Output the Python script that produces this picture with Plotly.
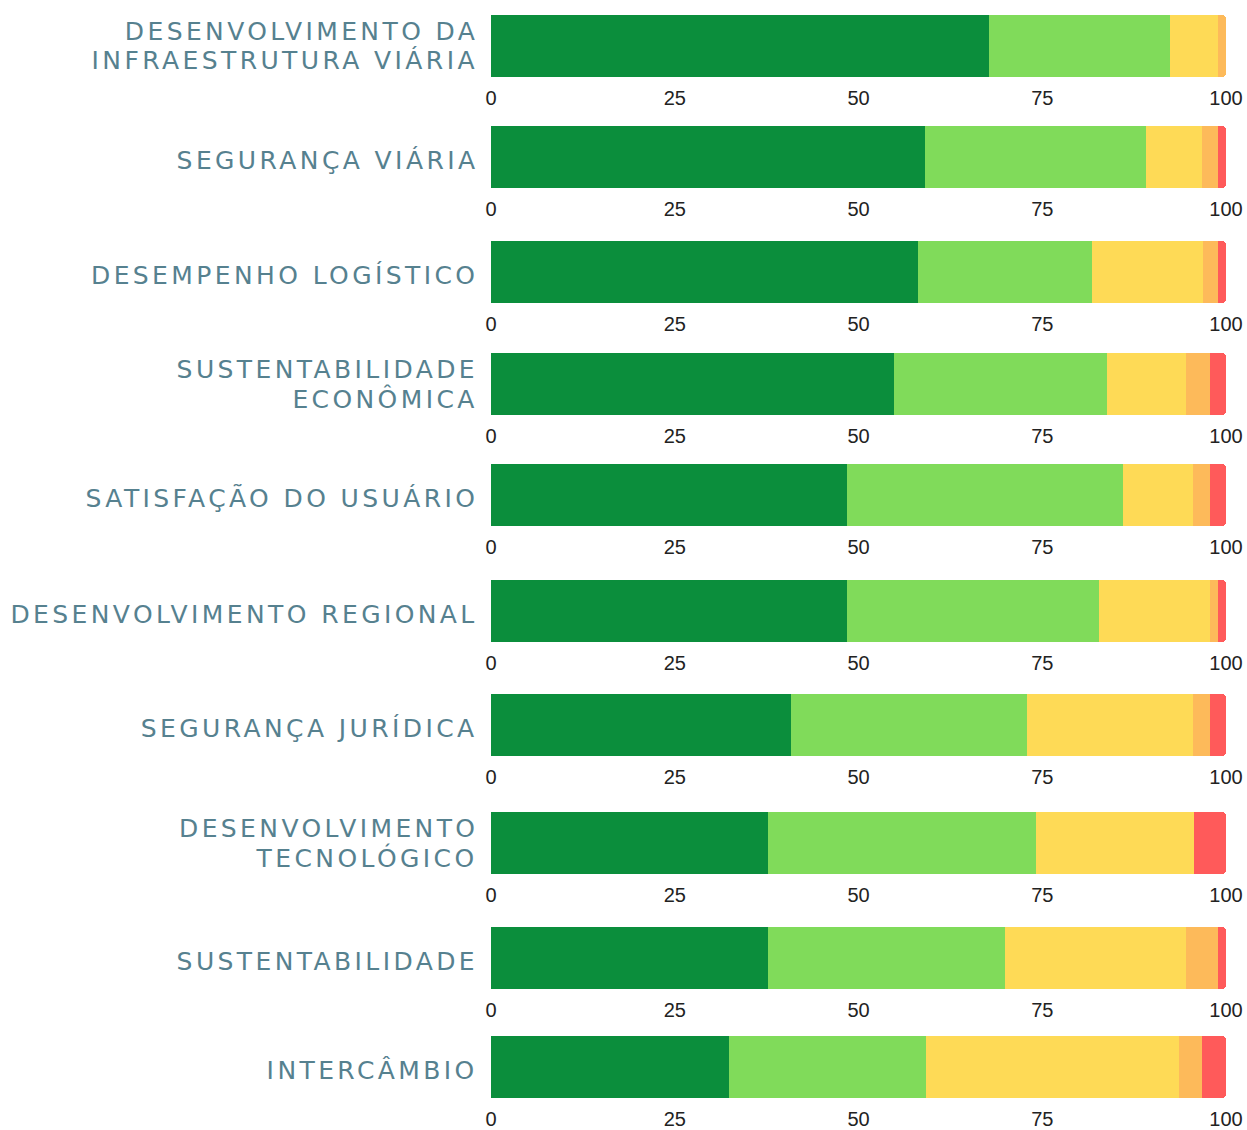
import plotly.graph_objects as go

categories = [
    ["DESENVOLVIMENTO DA", "INFRAESTRUTURA VIÁRIA"],
    ["SEGURANÇA VIÁRIA"],
    ["DESEMPENHO LOGÍSTICO"],
    ["SUSTENTABILIDADE", "ECONÔMICA"],
    ["SATISFAÇÃO DO USUÁRIO"],
    ["DESENVOLVIMENTO REGIONAL"],
    ["SEGURANÇA JURÍDICA"],
    ["DESENVOLVIMENTO", "TECNOLÓGICO"],
    ["SUSTENTABILIDADE"],
    ["INTERCÂMBIO"],
]
seg1 = [67.8, 59.0, 58.1, 54.8, 48.4, 48.4, 40.8, 37.7, 37.7, 32.4]
seg2 = [24.6, 30.1, 23.7, 29.0, 37.6, 34.3, 32.1, 36.5, 32.2, 26.8]
seg3 = [6.5, 7.6, 15.1, 10.8, 9.5, 15.1, 22.6, 21.5, 24.6, 34.4]
seg4 = [1.1, 2.2, 2.0, 3.2, 2.3, 1.1, 2.3, 0.0, 4.4, 3.1]
seg5 = [0.0, 1.1, 1.1, 2.2, 2.2, 1.1, 2.2, 4.3, 1.1, 3.3]
tick_vals = [0, 25, 50, 75, 100]
tick_text = ["0", "25", "50", "75", "100"]

colors = ["#0B8E3C", "#80DB5A", "#FEDA56", "#FDBA5A", "#FF5A5A"]
series = [seg1, seg2, seg3, seg4, seg5]

W, H = 1247, 1130
bar_tops = [15, 126, 241, 353, 464, 580, 694, 812, 927, 1036]
bar_h = 62

fig = go.Figure()
layout = dict(
    width=W, height=H,
    margin=dict(l=491, r=21, t=0, b=0, autoexpand=False),
    paper_bgcolor="white", plot_bgcolor="white",
    barmode="stack", bargap=0, barcornerradius=4,
    showlegend=False,
)
annotations = []
for i in range(10):
    ax = "" if i == 0 else str(i + 1)
    for s, col in zip(series, colors):
        fig.add_trace(go.Bar(
            x=[s[i]], y=[0], orientation="h",
            marker=dict(color=col, line=dict(width=0)),
            xaxis="x" + ax, yaxis="y" + ax,
            hoverinfo="skip",
        ))
    top = bar_tops[i]
    d0 = 1 - (top + bar_h) / H
    d1 = 1 - top / H
    layout["xaxis" + ax] = dict(
        domain=[0, 1], range=[0, 100], anchor="y" + ax,
        tickvals=tick_vals, ticktext=tick_text,
        showgrid=False, zeroline=False, showline=False,
        ticks="outside", ticklen=3, tickcolor="rgba(0,0,0,0)",
        tickfont=dict(family="Liberation Sans, Arial", size=20, color="#222222"),
        fixedrange=True,
    )
    layout["yaxis" + ax] = dict(
        domain=[d0, d1], range=[-0.5, 0.5], anchor="x" + ax,
        showticklabels=False, showgrid=False, zeroline=False, showline=False,
        fixedrange=True,
    )
    center = top + bar_h / 2
    lines = categories[i]
    n = len(lines)
    for k, txt in enumerate(lines):
        yc = center + (k - (n - 1) / 2) * 29
        if n == 1:
            yc += 3
        annotations.append(dict(
            text=txt, xref="paper", yref="paper",
            x=0, xshift=-13, xanchor="right", align="right",
            y=1 - yc / H, yanchor="middle",
            showarrow=False, borderpad=0, borderwidth=0,
            font=dict(family="DejaVu Sans", size=25, color="#56818F"),
        ))
layout["annotations"] = annotations
fig.update_layout(**layout)

page_js = (
    "document.body.style.margin='0';"
    "document.body.style.overflow='hidden';"
    "document.querySelectorAll('.annotation-text').forEach(function(e){"
    "e.style.letterSpacing='3.4px';});"
)
fig.write_html("out.html", post_script=page_js,
               config={"displayModeBar": False, "staticPlot": True})
